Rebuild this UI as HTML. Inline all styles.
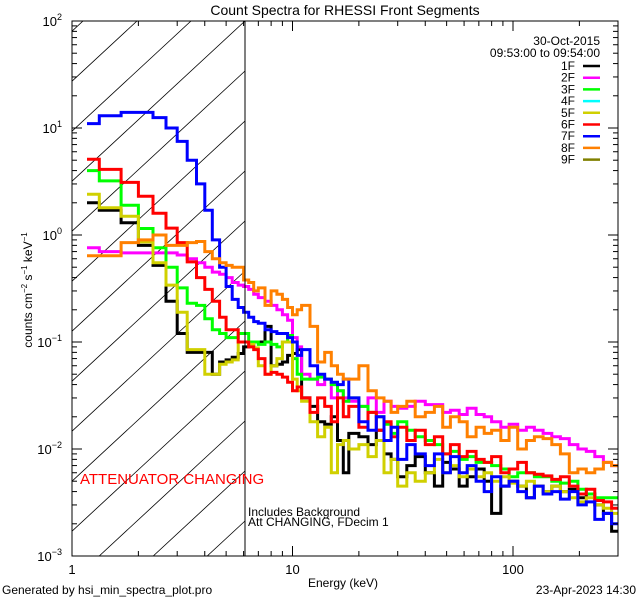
<!DOCTYPE html>
<html><head><meta charset="utf-8"><style>
html,body{margin:0;padding:0;background:#fff;}
svg{display:block;font-family:"Liberation Sans",sans-serif;}
</style></head><body>
<svg id="chart" width="640" height="600" viewBox="0 0 640 600" xmlns="http://www.w3.org/2000/svg">
<defs><clipPath id="plotclip"><rect x="72" y="21" width="546" height="535"/></clipPath>
<clipPath id="hatchclip"><rect x="72" y="21" width="173" height="535"/></clipPath></defs>
<text x="345" y="15" font-size="14" text-anchor="middle">Count Spectra for RHESSI Front Segments</text>
<g id="hatch" clip-path="url(#hatchclip)" stroke="#000" stroke-width="0.8"></g>
<g id="series" clip-path="url(#plotclip)" fill="none" stroke-linejoin="miter"></g>
<g id="axes" stroke="#000" stroke-width="1"></g>
<line x1="245" y1="21" x2="245" y2="556" stroke="#000" stroke-width="1"/>
<text transform="translate(32,290) rotate(-90)" font-size="12" text-anchor="middle">counts cm<tspan font-size="8" dy="-5">−2</tspan><tspan dy="5"> s</tspan><tspan font-size="8" dy="-5">−1</tspan><tspan dy="5"> keV</tspan><tspan font-size="8" dy="-5">−1</tspan></text>
<text x="343" y="587" font-size="12" text-anchor="middle">Energy (keV)</text>
<text x="80" y="484" font-size="15" fill="#ff0000">ATTENUATOR CHANGING</text>
<text x="248" y="516" font-size="12">Includes Background</text>
<text x="248" y="526" font-size="12">Att CHANGING, FDecim  1</text>
<text x="600" y="45" font-size="12" text-anchor="end">30-Oct-2015</text>
<text x="600" y="57" font-size="12" text-anchor="end">09:53:00 to 09:54:00</text>
<g id="legend"></g>
<text x="2" y="594" font-size="12">Generated by hsi_min_spectra_plot.pro</text>
<text x="636" y="594" font-size="12" text-anchor="end">23-Apr-2023 14:30</text>
</svg>
<script>
const edges=[1.17,1.33,1.67,2,2.33,2.67,3,3.33,3.67,4,4.33,4.67,5,5.33,5.67,6,6.33,6.67,7,7.5,8,8.5,9,9.5,10,10.5,11,12,13,14,15,16,17,18,20,22,24,26,28,30,33,36,40,44,48,52,57,62,68,74,80,88,96,105,115,125,137,150,164,180,197,215,235,257,280,300];
const s1F=[2.0,1.7,1.3,0.8,0.52,0.24,0.12,0.08,0.08,0.08,0.05,0.065,0.068,0.072,0.078,0.09,0.092,0.1,0.1,0.14,0.06,0.062,0.065,0.075,0.078,0.085,0.03,0.025,0.018,0.017,0.02,0.012,0.006,0.014,0.013,0.011,0.015,0.009,0.008,0.0055,0.007,0.0085,0.006,0.0045,0.0075,0.0065,0.0045,0.0055,0.0065,0.005,0.0025,0.0045,0.005,0.0045,0.0035,0.0045,0.004,0.0045,0.004,0.0042,0.0035,0.0038,0.003,0.0025,0.0017];
const s2F=[0.76,0.7,0.68,0.68,0.68,0.68,0.65,0.6,0.55,0.5,0.45,0.43,0.4,0.36,0.34,0.33,0.31,0.28,0.26,0.24,0.22,0.2,0.18,0.16,0.11,0.09,0.05,0.045,0.04,0.045,0.03,0.035,0.03,0.028,0.025,0.03,0.022,0.028,0.025,0.024,0.025,0.028,0.026,0.026,0.022,0.023,0.021,0.024,0.021,0.02,0.018,0.016,0.017,0.015,0.016,0.015,0.014,0.013,0.0125,0.011,0.01,0.0095,0.0085,0.0075,0.007];
const s3F=[4.0,3.2,1.9,1.15,0.76,0.5,0.32,0.23,0.22,0.165,0.13,0.12,0.11,0.11,0.12,0.12,0.1,0.1,0.095,0.1,0.095,0.09,0.1,0.115,0.07,0.05,0.045,0.045,0.047,0.045,0.04,0.035,0.028,0.03,0.025,0.022,0.02,0.017,0.014,0.018,0.015,0.013,0.012,0.011,0.009,0.0095,0.008,0.0085,0.0075,0.0075,0.007,0.0065,0.0055,0.006,0.006,0.0055,0.0055,0.005,0.0048,0.005,0.0042,0.0038,0.0035,0.0035,0.0035];
const s4F=[];
const s5F=[2.4,1.8,1.5,0.86,0.55,0.34,0.19,0.085,0.085,0.05,0.05,0.062,0.065,0.068,0.1,0.1,0.095,0.088,0.06,0.05,0.06,0.07,0.1,0.1,0.045,0.035,0.028,0.018,0.013,0.016,0.006,0.011,0.012,0.01,0.011,0.0085,0.012,0.006,0.008,0.0045,0.006,0.005,0.006,0.008,0.006,0.007,0.0055,0.0065,0.0055,0.006,0.005,0.0055,0.0048,0.0045,0.005,0.0045,0.004,0.0045,0.004,0.0035,0.0032,0.0035,0.003,0.0028,0.0025];
const s6F=[5.1,4.1,3.1,2.3,1.6,1.16,0.85,0.56,0.4,0.31,0.24,0.17,0.13,0.13,0.1,0.1,0.09,0.085,0.07,0.05,0.052,0.05,0.047,0.042,0.035,0.038,0.03,0.022,0.03,0.025,0.018,0.03,0.02,0.025,0.016,0.022,0.015,0.018,0.013,0.016,0.012,0.015,0.011,0.013,0.009,0.011,0.0085,0.0095,0.008,0.0075,0.0085,0.006,0.0065,0.0075,0.006,0.0058,0.0056,0.0052,0.0055,0.0045,0.0038,0.0042,0.0033,0.0032,0.0028];
const s7F=[11,13,14,14,12.5,10,7.5,5,3,1.7,0.9,0.5,0.33,0.25,0.21,0.19,0.17,0.155,0.15,0.13,0.125,0.12,0.12,0.11,0.1,0.075,0.085,0.06,0.05,0.045,0.042,0.04,0.045,0.03,0.018,0.015,0.02,0.012,0.016,0.008,0.011,0.009,0.007,0.009,0.006,0.0085,0.006,0.007,0.005,0.004,0.0055,0.0045,0.005,0.004,0.0035,0.0045,0.0038,0.004,0.0034,0.004,0.003,0.0032,0.0022,0.0025,0.002];
const s8F=[0.64,0.64,0.85,0.9,1.0,0.8,0.8,0.85,0.87,0.7,0.6,0.55,0.52,0.5,0.5,0.38,0.36,0.3,0.32,0.22,0.3,0.28,0.25,0.21,0.18,0.2,0.22,0.14,0.065,0.08,0.06,0.05,0.045,0.045,0.06,0.035,0.03,0.028,0.022,0.025,0.028,0.02,0.022,0.025,0.016,0.02,0.018,0.013,0.016,0.014,0.015,0.012,0.016,0.01,0.012,0.013,0.0125,0.011,0.009,0.006,0.0065,0.006,0.0065,0.0075,0.007];
const s9F=[];
const seriesNames=["1F","2F","3F","4F","5F","6F","7F","8F","9F"];
const seriesColors=["#000000","#ff00ff","#00ff00","#00ffff","#d0d000","#ff0000","#0000ff","#ff8000","#808000"];
const seriesData=[s1F,s2F,s3F,s4F,s5F,s6F,s7F,s8F,s9F];
const yTicks=[-3,-2,-1,0,1,2];
const xTicks=[1,10,100];

const NS="http://www.w3.org/2000/svg";
const X0=72,X1=618,Y0=21,Y1=556;
function xs(e){return X0+220.5*Math.log10(e);}
function ys(v){return Y0+107*(2-Math.log10(v));}
function mk(t,attrs,parent){const el=document.createElementNS(NS,t);for(const k in attrs)el.setAttribute(k,attrs[k]);parent.appendChild(el);return el;}

const hatch=document.getElementById('hatch');
for(let tx=83;tx<900;tx+=54){
  const l=mk('line',{x1:tx,y1:Y0,x2:tx-1.08*(Y1-Y0),y2:Y1},hatch);
  
  
}

const sg=document.getElementById('series');
seriesData.forEach((vals,si)=>{
  if(!vals.length)return;
  let d="";
  vals.forEach((v,i)=>{
    const xa=xs(edges[i]),xb=xs(edges[i+1]),y=ys(v);
    d+=(i===0?"M":"L")+xa.toFixed(1)+","+y.toFixed(1)+"L"+xb.toFixed(1)+","+y.toFixed(1);
  });
  const p=mk('path',{d:d,stroke:seriesColors[si],'stroke-width':3},sg);
  
  
});

const ax=document.getElementById('axes');
const frame=mk('rect',{x:X0,y:Y0,width:X1-X0,height:Y1-Y0,fill:'none'},ax);


const svg=document.getElementById('chart');
yTicks.forEach(p=>{
  const y=ys(Math.pow(10,p));
  mk('line',{x1:X0,y1:y,x2:X0+10,y2:y},ax);
  mk('line',{x1:X1,y1:y,x2:X1-10,y2:y},ax);
  const t=mk('text',{x:62,y:y+5,'font-size':13,'text-anchor':'end',stroke:'none'},svg);
  
  
  t.innerHTML='10<tspan font-size="9" dy="-6">'+(p<0?'−'+(-p):p)+'</tspan>';
  if(p<2){for(let m=2;m<=9;m++){const ym=ys(m*Math.pow(10,p));mk('line',{x1:X0,y1:ym,x2:X0+5,y2:ym},ax);mk('line',{x1:X1,y1:ym,x2:X1-5,y2:ym},ax);}}
});
xTicks.forEach(e=>{
  const x=xs(e);
  mk('line',{x1:x,y1:Y1,x2:x,y2:Y1-10},ax);
  mk('line',{x1:x,y1:Y0,x2:x,y2:Y0+10},ax);
  const t=mk('text',{x:x,y:574,'font-size':13,'text-anchor':'middle'},svg);
  
  
  t.textContent=String(e);
  for(let m=2;m<=9;m++){const xm=xs(m*e);if(xm>X1)break;mk('line',{x1:xm,y1:Y1,x2:xm,y2:Y1-5},ax);mk('line',{x1:xm,y1:Y0,x2:xm,y2:Y0+5},ax);}
});

const lg=document.getElementById('legend');
seriesNames.forEach((n,i)=>{
  const y=66+i*11.7;
  const t=mk('text',{x:575,y:y+4,'font-size':12,'text-anchor':'end'},lg);
  
  
  t.textContent=n;
  const l=mk('line',{x1:583,y1:y,x2:600,y2:y,stroke:seriesColors[i],'stroke-width':2.5},lg);
  
  
});
</script>
</body></html>
